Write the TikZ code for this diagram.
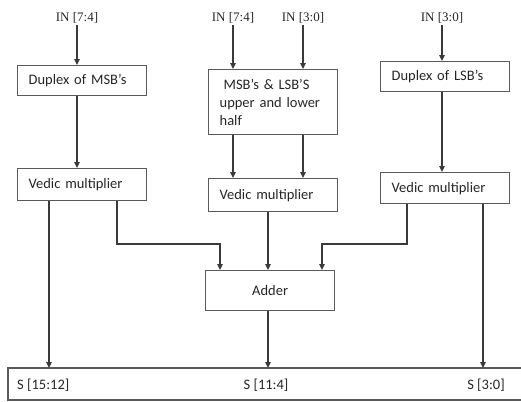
\documentclass[tikz,border=0pt]{standalone}
\usepackage{fontspec}
\setmainfont{Carlito}
\newfontfamily\serifin{Liberation Serif}
\usetikzlibrary{arrows.meta}
\definecolor{linegray}{HTML}{3A3A3A}
\definecolor{boxgray}{HTML}{5A5A5A}
\begin{document}
\begin{tikzpicture}[x=1bp,y=-1bp,
  blk/.style={draw=boxgray, line width=1.3bp, inner xsep=11bp, inner ysep=0pt,
    text width=#1, align=left, anchor=north west, font=\fontsize{14.5bp}{18bp}\selectfont, text=black!85},
  inlbl/.style={font=\serifin\fontsize{13bp}{15bp}\selectfont, inner sep=1bp, text=black!85},
  slbl/.style={font=\fontsize{14.5bp}{17bp}\selectfont, inner sep=0pt, text=black!85},
  arr/.style={draw=linegray, line width=1.2bp, -{Triangle[width=5.5bp,length=6bp]}},
  ln/.style={draw=linegray, line width=1.2bp}]
\useasboundingbox (0,0) rectangle (521,401);
% inputs
\node[inlbl] (in1) at (77,18) {IN [7:4]};
\node[inlbl] (in2) at (233,18) {IN [7:4]};
\node[inlbl] (in3) at (303,18) {IN [3:0]};
\node[inlbl] (in4) at (442,18) {IN [3:0]};
% boxes
\node[blk=107bp, minimum height=30bp] (d1) at (17,65) {Duplex of MSB's};
\node[blk=107bp, minimum height=65bp] (m2) at (208,69) {\hspace*{4bp}MSB's \& LSB'S\\upper and lower\\half};
\node[blk=107bp, minimum height=30bp] (d3) at (380,61) {Duplex of LSB's};
\node[blk=107bp, minimum height=32bp] (v1) at (17,168) {Vedic multiplier};
\node[blk=107bp, minimum height=33bp] (v2) at (208,178) {Vedic multiplier};
\node[blk=107bp, minimum height=31bp] (v3) at (380,172) {Vedic multiplier};
\node[blk=107bp, minimum height=40bp, align=center] (add) at (205,270) {Adder\\[6bp]};
% output bar
\node[anchor=north west, minimum width=514bp, minimum height=31.5bp, inner sep=0pt] (bar) at (8,368) {};
\draw[ln, draw=boxgray, line width=1.4bp] (bar.north east) -- (bar.north west) -- (bar.south west) -- (bar.south east);
\node[slbl, anchor=west] (s1) at (17,385) {S [15:12]};
\node[slbl] (s2) at (266,385) {S [11:4]};
\node[slbl] (s3) at (486,385) {S [3:0]};
% x positions
\coordinate (xa) at (49,0);
\coordinate (xb) at (117,0);
\coordinate (xc) at (220,0);
\coordinate (xd) at (268,0);
\coordinate (xe) at (322,0);
\coordinate (xf) at (407,0);
\coordinate (xg) at (483,0);
\coordinate (ya) at (0,244);
% connectors
\draw[arr] (in1.south) -- (in1.south |- d1.north);
\draw[arr] (in2.south) -- (in2.south |- m2.north);
\draw[arr] (in3.south) -- (in3.south |- m2.north);
\draw[arr] (in4.south) -- (in4.south |- d3.north);
\draw[arr] (d1.south -| in1) -- (v1.north -| in1);
\draw[arr] (m2.south -| in2) -- (v2.north -| in2);
\draw[arr] (m2.south -| in3) -- (v2.north -| in3);
\draw[arr] (d3.south -| in4) -- (v3.north -| in4);
\draw[arr] (v1.south -| xa) -- (bar.north -| xa);
\draw[arr] (v1.south -| xb) -- (xb |- ya) -- (xc |- ya) -- (add.north -| xc);
\draw[arr] (v2.south -| xd) -- (add.north -| xd);
\draw[arr] (v3.south -| xf) -- (xf |- ya) -- (xe |- ya) -- (add.north -| xe);
\draw[arr] (v3.south -| xg) -- (bar.north -| xg);
\draw[arr] (add.south -| xd) -- (bar.north -| xd);
\end{tikzpicture}
\end{document}
